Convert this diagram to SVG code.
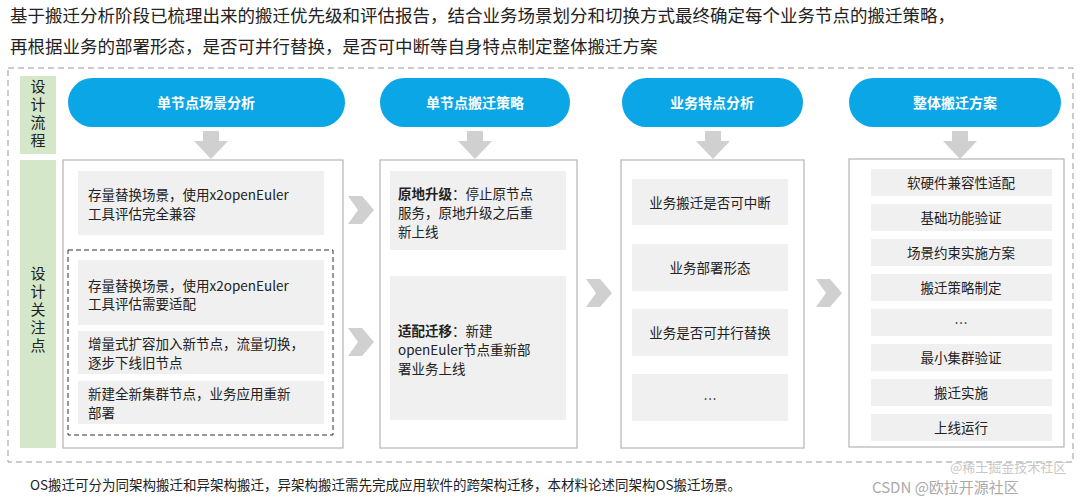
<svg xmlns="http://www.w3.org/2000/svg" width="1080" height="500" viewBox="0 0 1080 500">
<style>
text{font-family:"Noto Sans CJK SC","Noto Sans",sans-serif;fill:#222}
.t{font-size:17.5px}
.pill{fill:#0aa6e6}
.pt{font-size:14px;font-weight:bold;fill:#fff;text-anchor:middle}
.box{fill:#fff;stroke:#b5b5b5;stroke-width:1.2}
.it{fill:#f0f0f0}
.s{font-size:13.5px}
.c{text-anchor:middle}
.v{font-size:15px;text-anchor:middle;writing-mode:vertical-rl;letter-spacing:3px}
.g{fill:#d4e8c9}
.arr{fill:#d0d0d0}
</style>
<defs>
<polygon id="down" points="-8,0 8,0 8,10 17,10 0,28 -17,10 -8,10" class="arr"/>
<polygon id="right" points="0,-14 14,-14 26,0 14,14 0,14 10,0" class="arr"/>
</defs>
<rect width="1080" height="500" fill="#fff"/>
<text class="t" x="10" y="22">基于搬迁分析阶段已梳理出来的搬迁优先级和评估报告，结合业务场景划分和切换方式最终确定每个业务节点的搬迁策略，</text>
<text class="t" x="10" y="53">再根据业务的部署形态，是否可并行替换，是否可中断等自身特点制定整体搬迁方案</text>
<rect x="8" y="68" width="1065" height="394" fill="none" stroke="#999" stroke-dasharray="6,4"/>
<g id="lab1"><rect class="g" x="20" y="76" width="36" height="78"/><text class="v" x="38" y="115">设计流程</text></g>
<g id="lab2"><rect class="g" x="20" y="160" width="36" height="288"/><text class="v" x="38" y="311">设计关注点</text></g>
<g id="p1"><rect class="pill" x="68" y="78" width="277" height="49" rx="24.5"/><text class="pt" x="206" y="108">单节点场景分析</text></g>
<g id="p2"><rect class="pill" x="380" y="78" width="190" height="49" rx="24.5"/><text class="pt" x="475" y="108">单节点搬迁策略</text></g>
<g id="p3"><rect class="pill" x="622" y="78" width="181" height="49" rx="24.5"/><text class="pt" x="712" y="108">业务特点分析</text></g>
<g id="p4"><rect class="pill" x="849" y="78" width="212" height="49" rx="24.5"/><text class="pt" x="955" y="108">整体搬迁方案</text></g>
<g id="connectors">
<use href="#down" x="211" y="131"/><use href="#down" x="475" y="131"/><use href="#down" x="713" y="131"/><use href="#down" x="960" y="131"/>
<use href="#right" x="348" y="210"/><use href="#right" x="348" y="342"/><use href="#right" x="586" y="293"/><use href="#right" x="816" y="293"/>
</g>
<g id="col1">
<rect class="box" x="63" y="160" width="280" height="288"/>
<rect class="it" x="78" y="171" width="246" height="64"/>
<text class="s" x="88" y="200">存量替换场景，使用x2openEuler</text><text class="s" x="88" y="219">工具评估完全兼容</text>
<rect x="68" y="250" width="265" height="185" fill="none" stroke="#333" stroke-dasharray="5,3"/>
<rect class="it" x="78" y="260" width="246" height="65"/>
<text class="s" x="88" y="291">存量替换场景，使用x2openEuler</text><text class="s" x="88" y="309">工具评估需要适配</text>
<rect class="it" x="78" y="331" width="246" height="43"/>
<text class="s" x="88" y="349">增量式扩容加入新节点，流量切换，</text><text class="s" x="88" y="368">逐步下线旧节点</text>
<rect class="it" x="78" y="381" width="246" height="43"/>
<text class="s" x="88" y="399">新建全新集群节点，业务应用重新</text><text class="s" x="88" y="418">部署</text>
</g>
<g id="col2">
<rect class="box" x="380" y="160" width="197" height="288"/>
<rect class="it" x="390" y="171" width="176" height="79"/>
<text class="s" x="398" y="199"><tspan font-weight="bold">原地升级</tspan>：停止原节点</text><text class="s" x="398" y="218">服务，原地升级之后重</text><text class="s" x="398" y="237">新上线</text>
<rect class="it" x="390" y="276" width="176" height="144"/>
<text class="s" x="398" y="336"><tspan font-weight="bold">适配迁移</tspan>：新建</text><text class="s" x="398" y="355">openEuler节点重新部</text><text class="s" x="398" y="374">署业务上线</text>
</g>
<g id="col3">
<rect class="box" x="621" y="160" width="183" height="288"/>
<rect class="it" x="632" y="179" width="156" height="46"/><text class="s c" x="710" y="208">业务搬迁是否可中断</text>
<rect class="it" x="632" y="244" width="156" height="47"/><text class="s c" x="710" y="273">业务部署形态</text>
<rect class="it" x="632" y="309" width="156" height="47"/><text class="s c" x="710" y="338">业务是否可并行替换</text>
<rect class="it" x="632" y="374" width="156" height="47"/><text class="s c" x="710" y="404">…</text>
</g>
<g id="col4">
<rect class="box" x="849" y="159" width="215" height="288"/>
<rect class="it" x="871" y="169" width="181" height="27"/><text class="s c" x="961" y="188">软硬件兼容性适配</text>
<rect class="it" x="871" y="204" width="181" height="27"/><text class="s c" x="961" y="223">基础功能验证</text>
<rect class="it" x="871" y="239" width="181" height="27"/><text class="s c" x="961" y="258">场景约束实施方案</text>
<rect class="it" x="871" y="274" width="181" height="27"/><text class="s c" x="961" y="293">搬迁策略制定</text>
<rect class="it" x="871" y="309" width="181" height="27"/><text class="s c" x="961" y="328">…</text>
<rect class="it" x="871" y="344" width="181" height="27"/><text class="s c" x="961" y="363">最小集群验证</text>
<rect class="it" x="871" y="379" width="181" height="27"/><text class="s c" x="961" y="398">搬迁实施</text>
<rect class="it" x="871" y="414" width="181" height="27"/><text class="s c" x="961" y="433">上线运行</text>
</g>
<text x="30" y="490" font-size="13.5">OS搬迁可分为同架构搬迁和异架构搬迁，异架构搬迁需先完成应用软件的跨架构迁移，本材料论述同架构OS搬迁场景。</text>
<text x="950" y="472" font-size="13" style="fill:#c8c8c8">@稀土掘金技术社区</text>
<text x="872" y="493" font-size="15" style="fill:#aaa">CSDN @欧拉开源社区</text>
</svg>
